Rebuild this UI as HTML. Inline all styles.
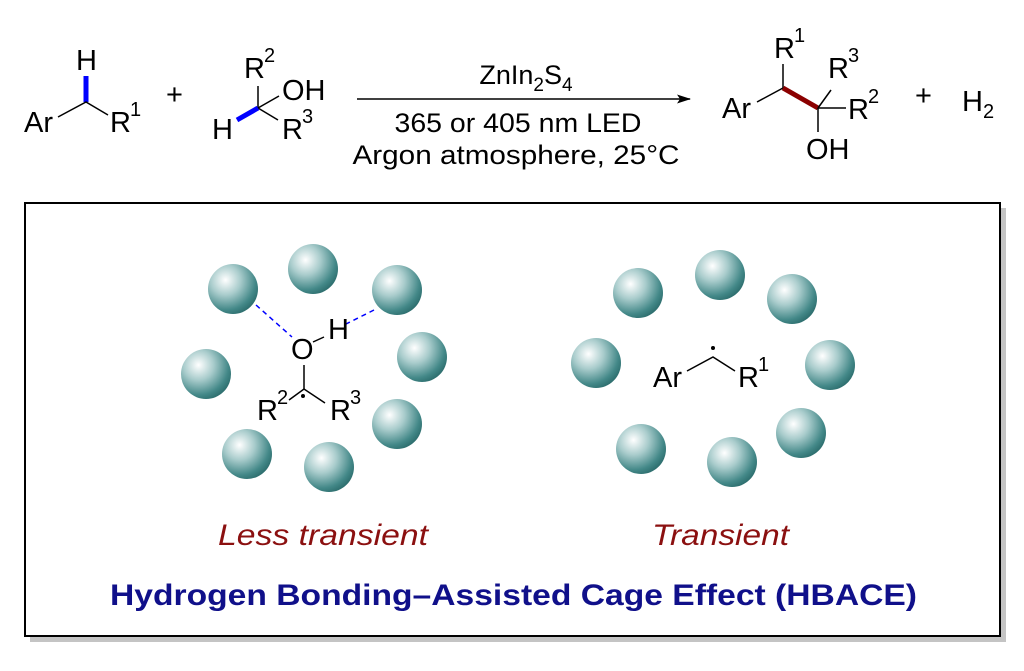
<!DOCTYPE html>
<html><head><meta charset="utf-8"><style>
html,body{margin:0;padding:0;background:#fff;}
svg{display:block;}
text{font-family:"Liberation Sans",Arial,sans-serif;fill:#000;}
</style></head><body>
<svg width="1024" height="671" viewBox="0 0 1024 671" xmlns="http://www.w3.org/2000/svg">
<defs>
<radialGradient id="sp" cx="0.35" cy="0.32" r="0.75">
<stop offset="0" stop-color="#ffffff"/>
<stop offset="0.4" stop-color="#a9cccc"/>
<stop offset="0.8" stop-color="#438888"/>
<stop offset="1" stop-color="#2a6a6a"/>
</radialGradient>
<marker id="ah" markerWidth="14" markerHeight="9" refX="13" refY="4.5" orient="auto" markerUnits="userSpaceOnUse">
<path d="M0,0 L14,4.5 L0,9 L3,4.5 Z" fill="#000"/>
</marker>
</defs>

<g font-size="29">
<text x="76" y="70">H</text>
<line x1="86" y1="76" x2="86" y2="102" stroke="#0000ff" stroke-width="5"/>
<text x="24" y="132">Ar</text>
<polyline points="58,117 86,102 108,115" fill="none" stroke="#000" stroke-width="1.5"/>
<text x="110" y="132">R</text><text x="130" y="116" font-size="20">1</text>
<text x="166" y="104">+</text>

<text x="244" y="78">R</text><text x="264" y="62" font-size="20">2</text>
<line x1="258" y1="86" x2="258" y2="108" stroke="#000" stroke-width="1.5"/>
<line x1="258" y1="108" x2="279" y2="96" stroke="#000" stroke-width="1.5"/>
<text x="282" y="100">OH</text>
<line x1="258" y1="108" x2="278" y2="120" stroke="#000" stroke-width="1.5"/>
<text x="282" y="139">R</text><text x="302" y="123" font-size="20">3</text>
<line x1="258" y1="108" x2="237" y2="120" stroke="#0000ff" stroke-width="5"/>
<text x="212" y="139">H</text>
</g>

<line x1="357" y1="99" x2="690" y2="99" stroke="#000" stroke-width="1.5" marker-end="url(#ah)"/>
<g font-size="27" text-anchor="middle">
<text x="526" y="84">ZnIn<tspan font-size="19" dy="7">2</tspan><tspan dy="-7">S</tspan><tspan font-size="19" dy="7">4</tspan></text>
<text x="518" y="132" textLength="247" lengthAdjust="spacingAndGlyphs">365 or 405 nm LED</text>
<text x="516" y="164" textLength="327" lengthAdjust="spacingAndGlyphs">Argon atmosphere, 25°C</text>
</g>

<g font-size="29">
<text x="774" y="58">R</text><text x="794" y="42" font-size="20">1</text>
<line x1="783" y1="64" x2="783" y2="88" stroke="#000" stroke-width="1.5"/>
<text x="722" y="118">Ar</text>
<line x1="757" y1="102" x2="783" y2="88" stroke="#000" stroke-width="1.5"/>
<line x1="783" y1="88" x2="818" y2="108" stroke="#8b0000" stroke-width="5"/>
<line x1="818" y1="108" x2="831" y2="90" stroke="#000" stroke-width="1.5"/>
<text x="828" y="78">R</text><text x="848" y="62" font-size="20">3</text>
<line x1="818" y1="108" x2="846" y2="108" stroke="#000" stroke-width="1.5"/>
<text x="848" y="119">R</text><text x="868" y="103" font-size="20">2</text>
<line x1="818" y1="108" x2="818" y2="132" stroke="#000" stroke-width="1.5"/>
<text x="806" y="159">OH</text>
<text x="915" y="105">+</text>
<text x="962" y="111">H</text><text x="983" y="118" font-size="20">2</text>
</g>

<rect x="30" y="208" width="976" height="434" fill="#c4c4c4"/>
<rect x="25" y="203" width="975" height="433" fill="#fff" stroke="#000" stroke-width="2"/>

<g fill="url(#sp)">
<circle cx="233" cy="289" r="25"/>
<circle cx="313" cy="269" r="25"/>
<circle cx="397" cy="290" r="25"/>
<circle cx="422" cy="357" r="25"/>
<circle cx="206" cy="374" r="25"/>
<circle cx="397" cy="424" r="25"/>
<circle cx="247" cy="454" r="25"/>
<circle cx="329" cy="467" r="25"/>
</g>
<line x1="256" y1="305" x2="292" y2="337" stroke="#0000ff" stroke-width="1.5" stroke-dasharray="5,4"/>
<line x1="374" y1="310" x2="346" y2="324" stroke="#0000ff" stroke-width="1.5" stroke-dasharray="5,4"/>
<g font-size="29">
<text x="291" y="359">O</text>
<line x1="313" y1="342" x2="324" y2="337" stroke="#000" stroke-width="1.5"/>
<text x="328" y="339">H</text>
<line x1="304" y1="365" x2="304" y2="389" stroke="#000" stroke-width="1.5"/>
<polyline points="289,400 304,389 325,403" fill="none" stroke="#000" stroke-width="1.5"/>
<circle cx="303" cy="396" r="2" fill="#000"/>
<text x="257" y="420">R</text><text x="277" y="404" font-size="20">2</text>
<text x="330" y="420">R</text><text x="350" y="404" font-size="20">3</text>
</g>

<g fill="url(#sp)">
<circle cx="638" cy="293" r="25"/>
<circle cx="720" cy="275" r="25"/>
<circle cx="792" cy="299" r="25"/>
<circle cx="830" cy="365" r="25"/>
<circle cx="596" cy="363" r="25"/>
<circle cx="801" cy="433" r="25"/>
<circle cx="641" cy="449" r="25"/>
<circle cx="732" cy="462" r="25"/>
</g>
<g font-size="29">
<text x="653" y="387">Ar</text>
<polyline points="687,371 713,357 735,371" fill="none" stroke="#000" stroke-width="1.5"/>
<circle cx="713" cy="348" r="2" fill="#000"/>
<text x="738" y="387">R</text><text x="758" y="371" font-size="20">1</text>
</g>

<text x="218" y="545" font-size="30" font-style="italic" style="fill:#8b1010" textLength="210" lengthAdjust="spacingAndGlyphs">Less transient</text>
<text x="652" y="545" font-size="30" font-style="italic" style="fill:#8b1010" textLength="137" lengthAdjust="spacingAndGlyphs">Transient</text>
<text x="110" y="605" font-size="30" font-weight="bold" style="fill:#10108a" textLength="807" lengthAdjust="spacingAndGlyphs">Hydrogen Bonding–Assisted Cage Effect (HBACE)</text>
</svg>
</body></html>
